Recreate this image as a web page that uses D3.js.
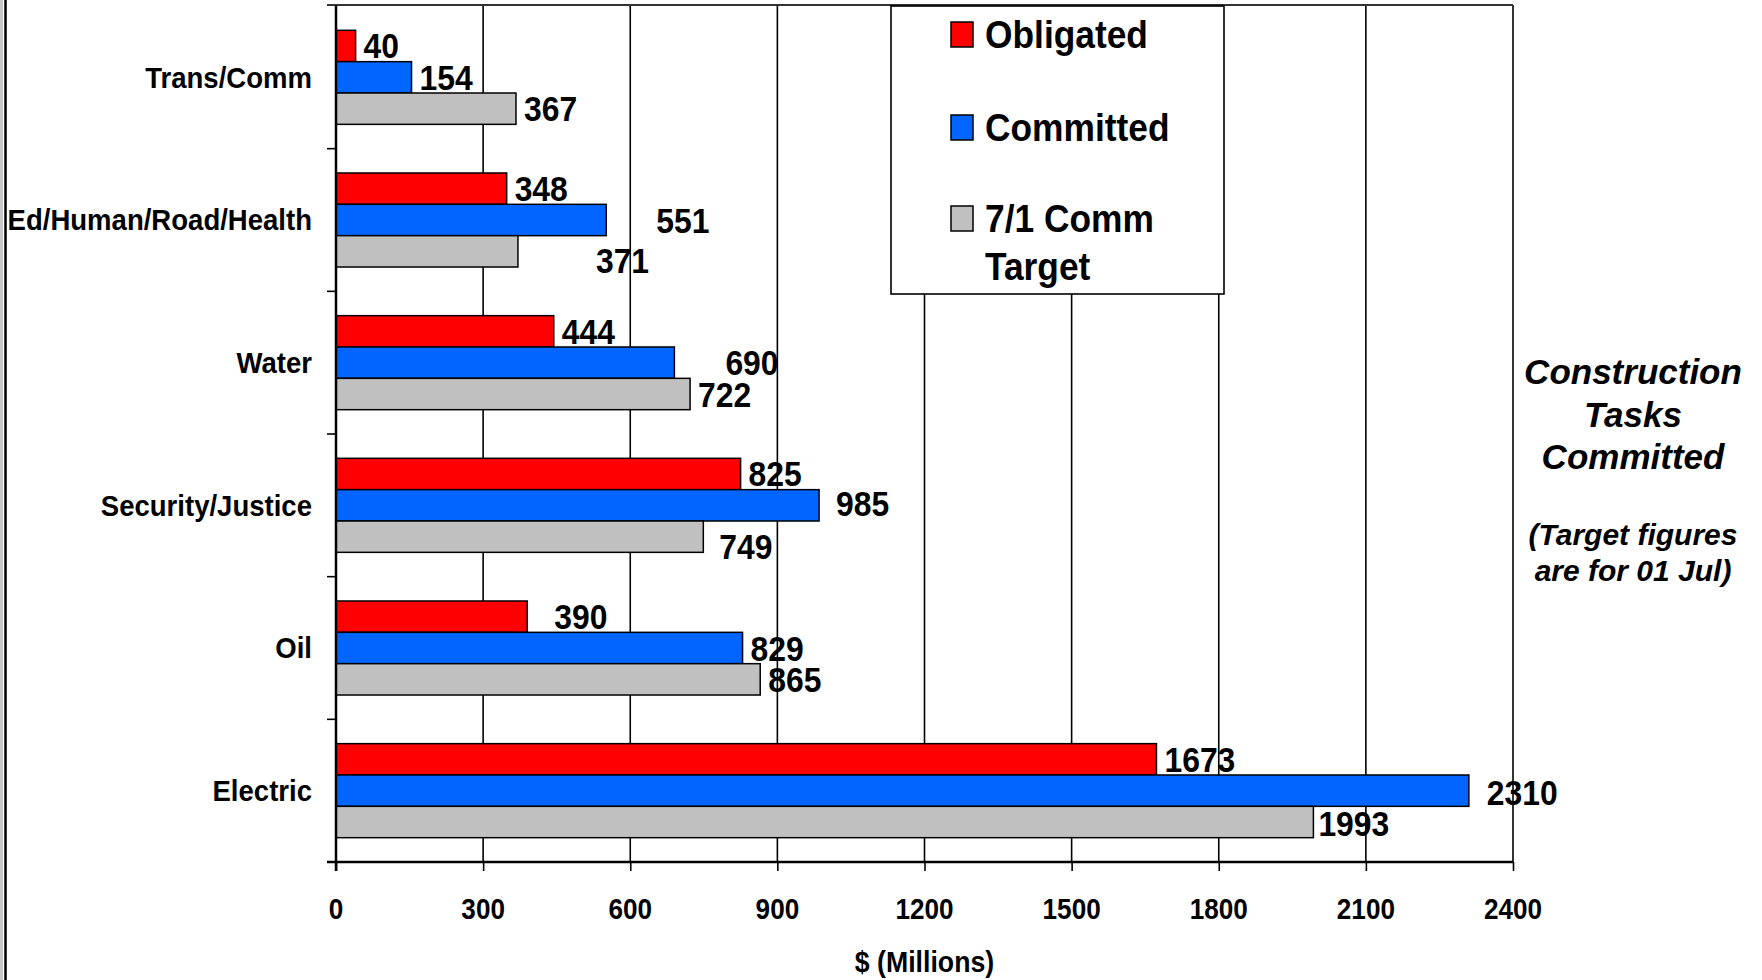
<!DOCTYPE html>
<html>
<head>
<meta charset="utf-8">
<script src="https://cdn.jsdelivr.net/npm/d3@7"></script>
<style>
  html, body { margin: 0; padding: 0; background: #fff; }
  svg { display: block; }
  text { font-family: "Liberation Sans", Arial, sans-serif; font-weight: bold; fill: #000; }
</style>
</head>
<body>
<div id="chart"></div>
<script>
// data
var categories = ["Trans/Comm", "Ed/Human/Road/Health", "Water", "Security/Justice", "Oil", "Electric"];
var seriesNames = ["Obligated", "Committed", "7/1 Comm Target"];
var obligated = [40, 348, 444, 825, 390, 1673];
var committed = [154, 551, 690, 985, 829, 2310];
var target = [367, 371, 722, 749, 865, 1993];
var xTicks = [0, 300, 600, 900, 1200, 1500, 1800, 2100, 2400];
var axisTitle = "$ (Millions)";
var noteMain = ["Construction", "Tasks", "Committed"];
var noteSub = ["(Target figures", "are for 01 Jul)"];

var colors = ["#ff0000", "#0066ff", "#c0c0c0"];

// hand placed data labels in the original (dx, dy in px)
var labelNudge = {
    "Ed/Human/Road/Health|Committed": [42, 0],
    "Ed/Human/Road/Health|7/1 Comm Target": [70, 9],
    "Water|Committed": [43, 0],
    "Security/Justice|Committed": [9, -2],
    "Security/Justice|7/1 Comm Target": [8, 10],
    "Oil|Obligated": [19, 0],
    "Electric|Committed": [10, 2],
    "Electric|7/1 Comm Target": [-3, 1]
};

var width = 1762, height = 980;
var plotLeft = 336, plotRight = 1513, plotTop = 5, plotBottom = 862;

var svg = d3.select("#chart").append("svg")
    .attr("width", width)
    .attr("height", height);

// text in the original is squeezed horizontally
function place(sel, fx, fy, k) {
    sel.attr("transform", function (d, i) { return `translate(${fx(d, i)},${fy(d, i)}) scale(${k},1)`; });
}

// page border on the left
svg.append("line").attr("x1", 1.5).attr("x2", 1.5).attr("y1", 0).attr("y2", height)
    .attr("stroke", "#c8c8c8").attr("stroke-width", 3);
svg.append("line").attr("x1", 5.5).attr("x2", 5.5).attr("y1", 0).attr("y2", height)
    .attr("stroke", "#000").attr("stroke-width", 2.5);

var x = d3.scaleLinear().domain([0, 2400]).range([plotLeft, plotRight]);
var y = d3.scaleBand().domain(categories).range([plotTop + 1, plotBottom]);
var ySeries = d3.scaleBand().domain(seriesNames).range([0, y.bandwidth()]).paddingOuter(0.776);

// grid lines
svg.append("g")
    .selectAll("line")
    .data(xTicks.slice(1))
    .enter()
    .append("line")
        .attr("x1", function (d) { return x(d); })
        .attr("x2", function (d) { return x(d); })
        .attr("y1", plotTop)
        .attr("y2", plotBottom)
        .attr("stroke", "#000")
        .attr("stroke-width", 1.6);

svg.append("line").attr("x1", plotLeft).attr("x2", plotRight).attr("y1", plotTop).attr("y2", plotTop)
    .attr("stroke", "#333").attr("stroke-width", 2);

// bars
var rows = [];
categories.forEach(function (c, i) {
    [obligated[i], committed[i], target[i]].forEach(function (v, j) {
        rows.push({ cat: c, series: seriesNames[j], value: v, color: colors[j] });
    });
});

svg.append("g")
    .selectAll("rect")
    .data(rows)
    .enter()
    .append("rect")
        .attr("x", x(0))
        .attr("y", function (d) { return y(d.cat) + ySeries(d.series); })
        .attr("width", function (d) { return x(d.value) - x(0); })
        .attr("height", ySeries.bandwidth())
        .attr("fill", function (d) { return d.color; })
        .attr("stroke", "#000")
        .attr("stroke-width", 1.5);

// data labels
var labels = svg.append("g")
    .selectAll("text")
    .data(rows)
    .enter()
    .append("text")
        .attr("font-size", "35px")
        .text(function (d) { return d.value; });
place(labels,
    function (d) { var n = labelNudge[d.cat + "|" + d.series] || [0, 0]; return x(d.value) + 8 + n[0]; },
    function (d) { var n = labelNudge[d.cat + "|" + d.series] || [0, 0]; return y(d.cat) + ySeries(d.series) + ySeries.bandwidth() / 2 + 12.5 + n[1]; },
    0.91);

// axes
var axisX = d3.axisBottom(x).tickValues(xTicks).tickSize(9).tickFormat("");
var gx = svg.append("g")
    .attr("transform", `translate(0,${plotBottom})`)
    .call(axisX);
gx.select(".domain").remove();
gx.selectAll("line").attr("stroke", "#000").attr("stroke-width", 1.6);

var tickLabels = svg.append("g")
    .selectAll("text")
    .data(xTicks)
    .enter()
    .append("text")
        .attr("font-size", "29px")
        .attr("text-anchor", "middle")
        .text(function (d) { return d; });
place(tickLabels, function (d) { return x(d); }, function () { return 919; }, 0.9);

svg.append("text")
    .attr("font-size", "29px")
    .attr("text-anchor", "middle")
    .attr("transform", `translate(${(plotLeft + plotRight) / 2},972) scale(0.92,1)`)
    .text(axisTitle);

var boundaries = categories.map(function (c) { return y(c); }).concat([plotBottom]);
boundaries[0] = plotTop;
svg.append("g")
    .selectAll("line")
    .data(boundaries)
    .enter()
    .append("line")
        .attr("x1", plotLeft - 9)
        .attr("x2", plotLeft)
        .attr("y1", function (d) { return d; })
        .attr("y2", function (d) { return d; })
        .attr("stroke", "#000")
        .attr("stroke-width", 1.6);

svg.append("line").attr("x1", plotLeft).attr("x2", plotLeft).attr("y1", plotTop).attr("y2", plotBottom + 9)
    .attr("stroke", "#000").attr("stroke-width", 2.5);
svg.append("line").attr("x1", plotLeft - 9).attr("x2", plotRight).attr("y1", plotBottom).attr("y2", plotBottom)
    .attr("stroke", "#000").attr("stroke-width", 2.5);

var catLabels = svg.append("g")
    .selectAll("text")
    .data(categories)
    .enter()
    .append("text")
        .attr("font-size", "29px")
        .attr("text-anchor", "end")
        .text(function (d) { return d; });
place(catLabels, function () { return 312; }, function (d) { return y(d) + y.bandwidth() / 2 + 10.4; }, 0.95);

// legend
var legend = svg.append("g");
legend.append("rect")
    .attr("x", 891).attr("y", 6)
    .attr("width", 333).attr("height", 288)
    .attr("fill", "#fff")
    .attr("stroke", "#000")
    .attr("stroke-width", 1.6);

var legendBase = [48, 141, 232];
var items = legend.selectAll("g.item")
    .data(seriesNames)
    .enter()
    .append("g")
        .attr("class", "item");
items.append("rect")
    .attr("x", 951)
    .attr("y", function (d, i) { return legendBase[i] - 26; })
    .attr("width", 22)
    .attr("height", 25)
    .attr("fill", function (d, i) { return colors[i]; })
    .attr("stroke", "#000")
    .attr("stroke-width", 1.5);
var legendText = items.append("text")
    .attr("font-size", "38px");
legendText.selectAll("tspan")
    .data(function (d) { return d === "7/1 Comm Target" ? ["7/1 Comm", "Target"] : [d]; })
    .enter()
    .append("tspan")
        .attr("x", 0)
        .attr("y", function (d, i) { return i * 48; })
        .text(function (d) { return d; });
place(legendText, function () { return 985; }, function (d, i) { return legendBase[i]; }, 0.93);

// side note
var noteX = 1633;
svg.append("g")
    .selectAll("text")
    .data(noteMain)
    .enter()
    .append("text")
        .attr("x", noteX)
        .attr("y", function (d, i) { return 384 + i * 42.5; })
        .attr("font-size", "35px")
        .attr("font-style", "italic")
        .attr("text-anchor", "middle")
        .text(function (d) { return d; });
svg.append("g")
    .selectAll("text")
    .data(noteSub)
    .enter()
    .append("text")
        .attr("x", noteX)
        .attr("y", function (d, i) { return 545 + i * 36; })
        .attr("font-size", "30px")
        .attr("font-style", "italic")
        .attr("text-anchor", "middle")
        .text(function (d) { return d; });
</script>
</body>
</html>
